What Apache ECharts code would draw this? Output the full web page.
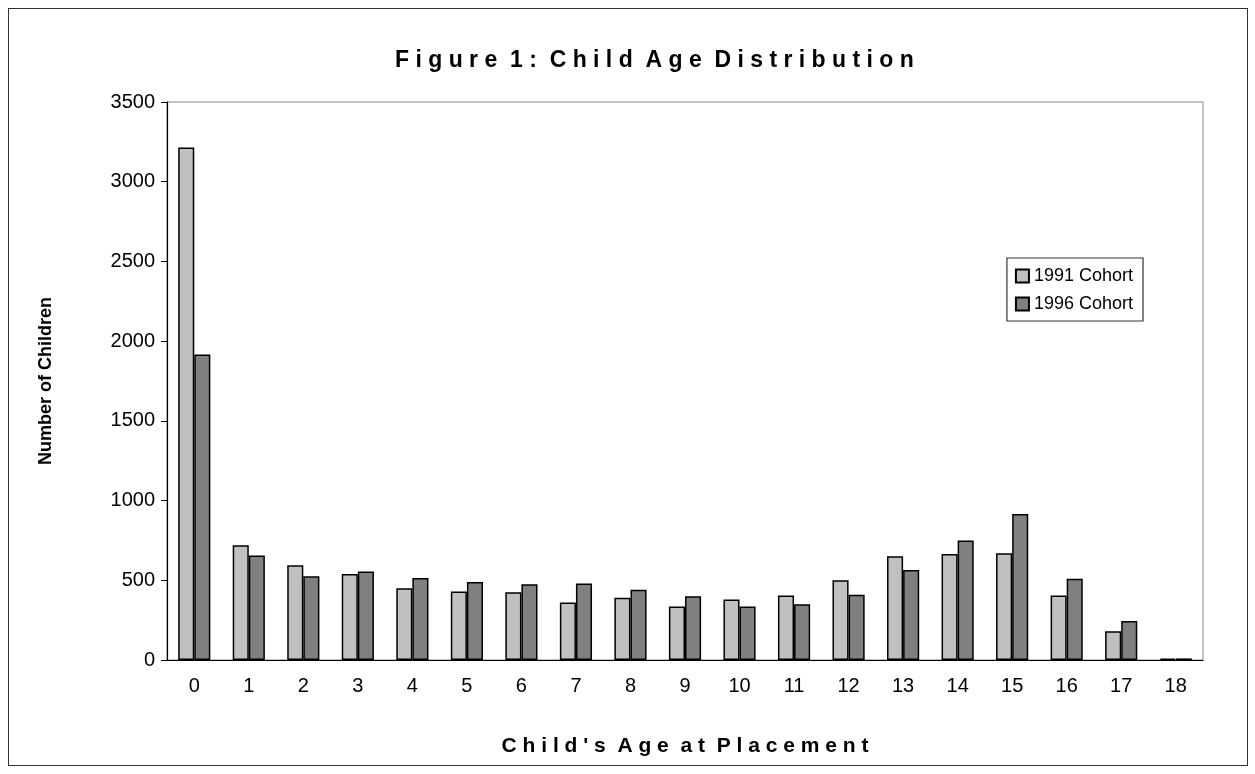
<!DOCTYPE html>
<html>
<head>
<meta charset="UTF-8">
<script src="https://cdn.jsdelivr.net/npm/echarts@6/dist/echarts.min.js"></script>
<style>
  body { margin: 0; background: #fff; }
  #frame { position: absolute; left: 8px; top: 8px; width: 1238px; height: 756px; border: 1.5px solid #333; }
  #main { width: 1255px; height: 774px; }
</style>
</head>
<body>
<div id="frame"></div>
<div id="main"></div>
<script>
    const ages = ['0','1','2','3','4','5','6','7','8','9','10','11','12','13','14','15','16','17','18'];
    const cohort1991 = [3215, 720, 595, 540, 450, 430, 425, 360, 390, 335, 380, 405, 500, 650, 665, 670, 405, 180, 8];
    const cohort1996 = [1917, 655, 525, 555, 515, 490, 475, 480, 440, 400, 335, 350, 410, 565, 750, 915, 510, 245, 10];

    let myChart = echarts.init(document.getElementById('main'));
    let font = 'Liberation Sans, Arial, sans-serif';
    let barStyle = function (color) {
        return { color: color, borderColor: '#000', borderWidth: 1.5 };
    };
    let option = {
        animation: false,
        title: {
            text: 'F i g u r e  1 :  C h i l d  A g e  D i s t r i b u t i o n',
            left: 390, top: 44,
            textStyle: { fontFamily: font, fontSize: 23, fontWeight: 'bold', color: '#000' }
        },
        legend: {
            right: 112, top: 258, orient: 'vertical',
            icon: 'rect', itemWidth: 13, itemHeight: 13, itemGap: 10,
            padding: [9, 10, 8, 8],
            borderColor: '#333', borderWidth: 1.2,
            textStyle: { fontFamily: font, fontSize: 18, color: '#000' },
            data: ['1991 Cohort', '1996 Cohort']
        },
        grid: { left: 167, right: 52, top: 102, bottom: 114, show: true, borderColor: '#888', borderWidth: 1 },
        xAxis: {
            type: 'category', data: ages,
            name: "C h i l d ' s  A g e  a t  P l a c e m e n t",
            nameLocation: 'middle', nameGap: 76,
            nameTextStyle: { fontFamily: font, fontSize: 21, fontWeight: 'bold', color: '#000' },
            axisLine: { lineStyle: { color: '#000', width: 1.2 } },
            axisTick: { length: 6, lineStyle: { color: '#000' } },
            axisLabel: { fontFamily: font, fontSize: 20, color: '#000', margin: 16 }
        },
        yAxis: {
            type: 'value', min: 0, max: 3500, interval: 500,
            name: 'Number of Children',
            nameLocation: 'middle', nameGap: 112,
            nameTextStyle: { fontFamily: font, fontSize: 18, fontWeight: 'bold', color: '#000' },
            splitLine: { show: false },
            axisLine: { show: true, lineStyle: { color: '#000', width: 1.2 } },
            axisTick: { show: true, inside: false, length: 6, lineStyle: { color: '#000' } },
            axisLabel: { fontFamily: font, fontSize: 20, color: '#000', margin: 12, formatter: function (v) { return String(v); } }
        },
        series: [
            { name: '1991 Cohort', type: 'bar', data: cohort1991, barGap: '0%', barCategoryGap: '41%', itemStyle: barStyle('#c0c0c0') },
            { name: '1996 Cohort', type: 'bar', data: cohort1996, itemStyle: barStyle('#808080') }
        ]
    };
    myChart.setOption(option);
</script>
</body>
</html>
